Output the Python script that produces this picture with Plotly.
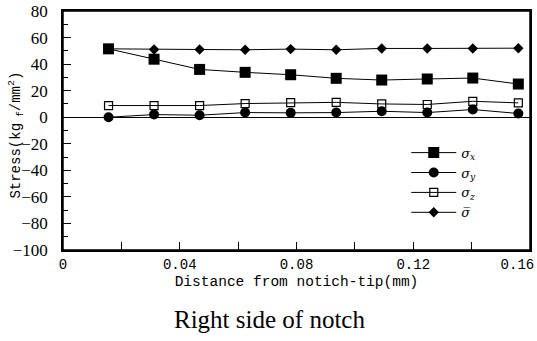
import plotly.graph_objects as go

distance = [0.0156, 0.0312, 0.0468, 0.0624, 0.078, 0.0936, 0.1092, 0.1248, 0.1404, 0.156]
sigma_x = [51.5, 43.7, 36.0, 33.8, 32.0, 29.3, 28.0, 28.8, 29.5, 25.0]
sigma_y = [0.0, 2.0, 1.5, 3.5, 3.3, 3.5, 4.5, 3.5, 5.8, 2.8]
sigma_z = [8.8, 8.8, 8.8, 10.3, 11.0, 11.2, 10.0, 9.6, 12.0, 10.8]
sigma_bar = [51.5, 51.0, 51.0, 50.8, 51.3, 50.8, 51.8, 51.8, 51.8, 52.0]
x_ticks = [0, 0.04, 0.08, 0.12, 0.16]
x_tick_labels = ["0", "0.04", "0.08", "0.12", "0.16\u00a0\u00a0\u00a0"]

series = [
    ("<i>σ</i><sub><i>x</i></sub>", sigma_x, dict(symbol="square", size=11, color="black")),
    ("<i>σ</i><sub><i>y</i></sub>", sigma_y, dict(symbol="circle", size=10, color="black")),
    ("<i>σ</i><sub><i>z</i></sub>", sigma_z, dict(symbol="square-open", size=8, color="black", line=dict(width=1.2))),
    ("<i>σ\u0305</i>", sigma_bar, dict(symbol="diamond", size=8, color="black")),
]

fig = go.Figure()
for name, vals, mk in series:
    fig.add_trace(go.Scatter(x=distance, y=vals, mode="lines+markers", name=name,
                             line=dict(color="black", width=1), marker=mk))

fig.update_layout(
    width=537, height=341,
    margin=dict(l=63, r=7, t=11, b=91, autoexpand=False),
    paper_bgcolor="white", plot_bgcolor="white",
    showlegend=True,
    legend=dict(x=0.735, y=0.47, xanchor="left", yanchor="top",
                font=dict(family="DejaVu Serif", size=13, color="black"),
                bgcolor="rgba(0,0,0,0)", itemwidth=45, tracegroupgap=0),
    xaxis=dict(range=[0, 0.16], tickvals=x_ticks, ticktext=x_tick_labels, automargin=False,
               ticklabeloverflow="allow",
               ticks="inside", ticklen=8, tickcolor="black",
               minor=dict(dtick=0.02, ticks="inside", ticklen=8, tickcolor="black"),
               showgrid=False, zeroline=False, showline=True, linecolor="black", linewidth=1.5, mirror=True,
               tickfont=dict(family="Liberation Mono", size=14, color="black"),
               title=dict(text="Distance from notich-tip(mm)", standoff=4,
                          font=dict(family="Liberation Mono", size=14.5, color="black"))),
    yaxis=dict(range=[-100, 80], dtick=20, ticks="inside", ticklen=8, tickcolor="black",
               minor=dict(dtick=10, ticks="inside", ticklen=5, tickcolor="black"),
               showgrid=False, zeroline=True, zerolinecolor="black", zerolinewidth=1.2,
               showline=True, linecolor="black", linewidth=1.5, mirror=True, automargin=False,
               tickformat="d", ticklabelstandoff=10,
               tickfont=dict(family="Liberation Serif", size=17, color="black")),
    shapes=[dict(type="rect", xref="paper", yref="paper", x0=0, x1=1, y0=0, y1=1,
                 line=dict(color="black", width=1.5), layer="above")],
    annotations=[
        dict(text="Right side of notch", xref="paper", yref="paper",
             x=0.443, y=-0.225, xanchor="center", yanchor="top", showarrow=False,
             font=dict(family="Liberation Serif", size=25, color="black")),
        dict(text="Stress(kg<sub> f</sub>/mm<sup>2</sup>)", xref="paper", yref="paper",
             x=-0.1, y=0.48, xanchor="center", yanchor="middle", textangle=-90, showarrow=False,
             font=dict(family="Liberation Mono", size=14, color="black")),
    ],
)

fig.write_html("out.html", config={"displayModeBar": False},
               post_script="document.body.style.margin='0';")
